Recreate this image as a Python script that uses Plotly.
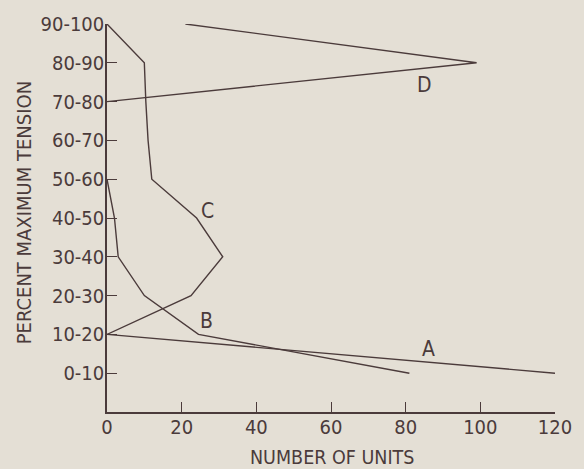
import plotly.graph_objects as go

# Tension classes (percent of maximum tension), bottom to top
tension_classes = ["0-10", "10-20", "20-30", "30-40", "40-50",
                   "50-60", "60-70", "70-80", "80-90", "90-100"]

# Number of units per tension class for each curve
a_classes = ["0-10", "10-20"]
a_units = [120, 0]

b_classes = ["0-10", "10-20", "20-30", "30-40", "40-50", "50-60"]
b_units = [81, 24.5, 10, 3, 2, 0]

c_classes = ["10-20", "20-30", "30-40", "40-50", "50-60",
             "60-70", "70-80", "80-90", "90-100"]
c_units = [0, 22.5, 31, 24, 12, 11, 10.4, 10, 0]

d_classes = ["70-80", "80-90", "90-100"]
d_units = [0, 99, 21]

x_ticks = [0, 20, 40, 60, 80, 100, 120]

INK = "#4b3b3b"
PAPER = "#e4dfd5"
FONT = "DejaVu Sans Condensed"


def class_pos(classes):
    return [tension_classes.index(c) for c in classes]


fig = go.Figure()
for classes, units in [(a_classes, a_units), (b_classes, b_units),
                       (c_classes, c_units), (d_classes, d_units)]:
    fig.add_trace(go.Scatter(
        x=units, y=class_pos(classes), mode="lines",
        line=dict(color=INK, width=1.4), cliponaxis=False,
        showlegend=False, hoverinfo="skip"))

# Curve letters
for letter, lx, ly in [("A", 86, 0.63), ("B", 26.6, 1.34),
                       ("C", 27, 4.17), ("D", 85, 7.42)]:
    fig.add_annotation(x=lx, y=ly, text=letter, showarrow=False,
                       font=dict(family=FONT, size=21, color=INK))

# Axis titles
fig.add_annotation(xref="paper", yref="paper", x=0.502, y=-0.117,
                   text="NUMBER OF UNITS", showarrow=False,
                   xanchor="center", yanchor="middle",
                   font=dict(family=FONT, size=19.5, color=INK))
fig.add_annotation(xref="paper", yref="paper", x=-0.186, y=0.514,
                   text="PERCENT MAXIMUM TENSION", showarrow=False,
                   textangle=-90, xanchor="center", yanchor="middle",
                   font=dict(family=FONT, size=20, color=INK))

fig.update_xaxes(range=[0, 120], tickvals=x_ticks,
                 ticktext=[str(v) for v in x_ticks],
                 ticks="inside", ticklen=10, tickwidth=1.2, tickcolor=INK,
                 ticklabelstandoff=-4,
                 showline=True, linecolor=INK, linewidth=1.5,
                 showgrid=False, zeroline=False,
                 tickfont=dict(family=FONT, size=20, color=INK))
fig.update_yaxes(range=[-1, 9], tickvals=list(range(len(tension_classes))),
                 ticktext=tension_classes,
                 ticks="inside", ticklen=10, tickwidth=1.2, tickcolor=INK,
                 ticklabelstandoff=-3,
                 showline=True, linecolor=INK, linewidth=1.5,
                 showgrid=False, zeroline=False,
                 tickfont=dict(family=FONT, size=20, color=INK))

fig.update_layout(width=584, height=469,
                  margin=dict(l=107, r=21, t=20, b=57),
                  paper_bgcolor=PAPER, plot_bgcolor=PAPER)

fig.write_html("out.html")
